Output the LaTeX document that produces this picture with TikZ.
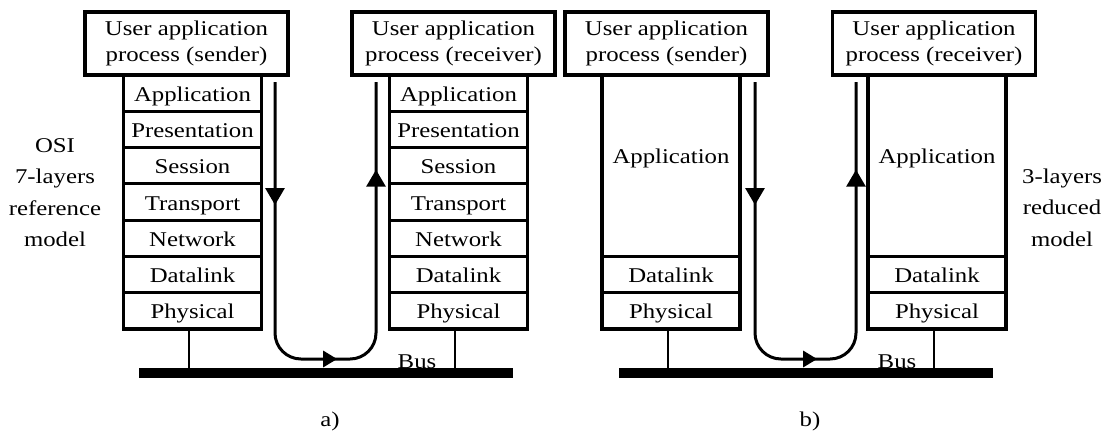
\documentclass[tikz,border=0pt]{standalone}
\usepackage{fontspec}
\setmainfont{Liberation Serif}[FakeStretch=1.18]
\usetikzlibrary{arrows.meta,decorations.markings}
\begin{document}
\begin{tikzpicture}[x=1pt,y=-1pt,
  every node/.style={font=\fontsize{21}{26}\selectfont, inner sep=0pt, outer sep=0pt},
  uap/.style={draw, line width=3.5pt, minimum width=203pt, minimum height=63pt, align=center},
  layer/.style={draw, line width=3pt, minimum width=138pt, minimum height=36.3pt, text height=17pt, text depth=1pt},
  bigapp/.style={draw, line width=3pt, minimum width=138pt, minimum height=181pt, text height=17pt, text depth=22pt},
  stackframe/.style={line width=3.5pt},
  bus/.style={fill=black, minimum width=374pt, minimum height=10pt},
  stem/.style={line width=2.5pt},
  side/.style={align=center, font=\fontsize{21}{31.5}\selectfont},
  flow/.style={line width=3pt, rounded corners=26pt, postaction={decorate},
    decoration={markings,
      mark=at position 123pt with {\arrow{Triangle[width=19pt,length=17pt]}},
      mark=at position 328pt with {\arrow{Triangle[width=16pt,length=14pt]}},
      mark=at position 545pt with {\arrow{Triangle[width=19pt,length=17pt]}}}}]
\useasboundingbox (0,0) rectangle (1113,432);

% ---------------- panel a ----------------
\node[uap] (aSU) at (186.5,43.5) {User application\\process (sender)};
\node[uap] (aRU) at (453.5,43.5) {User application\\process (receiver)};

\node[layer] (aS1) at (192.5,93.15) {Application};
\node[layer] (aS2) at (192.5,129.45) {Presentation};
\node[layer] (aS3) at (192.5,165.75) {Session};
\node[layer] (aS4) at (192.5,202.05) {Transport};
\node[layer] (aS5) at (192.5,238.35) {Network};
\node[layer] (aS6) at (192.5,274.65) {Datalink};
\node[layer] (aS7) at (192.5,310.95) {Physical};
\draw[stackframe] (aS1.north west) rectangle (aS7.south east);

\node[layer] (aR1) at (458.5,93.15) {Application};
\node[layer] (aR2) at (458.5,129.45) {Presentation};
\node[layer] (aR3) at (458.5,165.75) {Session};
\node[layer] (aR4) at (458.5,202.05) {Transport};
\node[layer] (aR5) at (458.5,238.35) {Network};
\node[layer] (aR6) at (458.5,274.65) {Datalink};
\node[layer] (aR7) at (458.5,310.95) {Physical};
\draw[stackframe] (aR1.north west) rectangle (aR7.south east);

\node[bus] (busA) at (326,373) {};
\draw[stem] ([xshift=-3.5pt]aS7.south) -- ([xshift=-3.5pt]aS7.south |- busA.north);
\draw[stem] ([xshift=-3.5pt]aR7.south) -- ([xshift=-3.5pt]aR7.south |- busA.north);
\node[anchor=base] (busLabelA) at (417,368) {Bus};

\coordinate (aF1) at (275,82);
\coordinate (aF2) at (275,359);
\coordinate (aF3) at (376,359);
\coordinate (aF4) at (376,82);
\draw[flow] (aF1) -- (aF2) -- (aF3) -- (aF4);

\node[side] (osi) at (55,192.5) {OSI\\7-layers\\reference\\model};
\node[anchor=base] (capA) at (330,426) {a)};

% ---------------- panel b ----------------
\node[uap] (bSU) at (666.5,43.5) {User application\\process (sender)};
\node[uap] (bRU) at (934,43.5) {User application\\process (receiver)};

\node[bigapp] (bS1) at (671,165.5) {Application};
\node[layer] (bS2) at (671,274.65) {Datalink};
\node[layer] (bS3) at (671,310.95) {Physical};
\draw[stackframe] (bS1.north west) rectangle (bS3.south east);

\node[bigapp] (bR1) at (937,165.5) {Application};
\node[layer] (bR2) at (937,274.65) {Datalink};
\node[layer] (bR3) at (937,310.95) {Physical};
\draw[stackframe] (bR1.north west) rectangle (bR3.south east);

\node[bus] (busB) at (806,373) {};
\draw[stem] ([xshift=-3pt]bS3.south) -- ([xshift=-3pt]bS3.south |- busB.north);
\draw[stem] ([xshift=-3pt]bR3.south) -- ([xshift=-3pt]bR3.south |- busB.north);
\node[anchor=base] (busLabelB) at (897,368) {Bus};

\coordinate (bF1) at (755,82);
\coordinate (bF2) at (755,359);
\coordinate (bF3) at (856,359);
\coordinate (bF4) at (856,82);
\draw[flow] (bF1) -- (bF2) -- (bF3) -- (bF4);

\node[side] (three) at (1062,207.5) {3-layers\\reduced\\model};
\node[anchor=base] (capB) at (810,426) {b)};
\end{tikzpicture}
\end{document}
